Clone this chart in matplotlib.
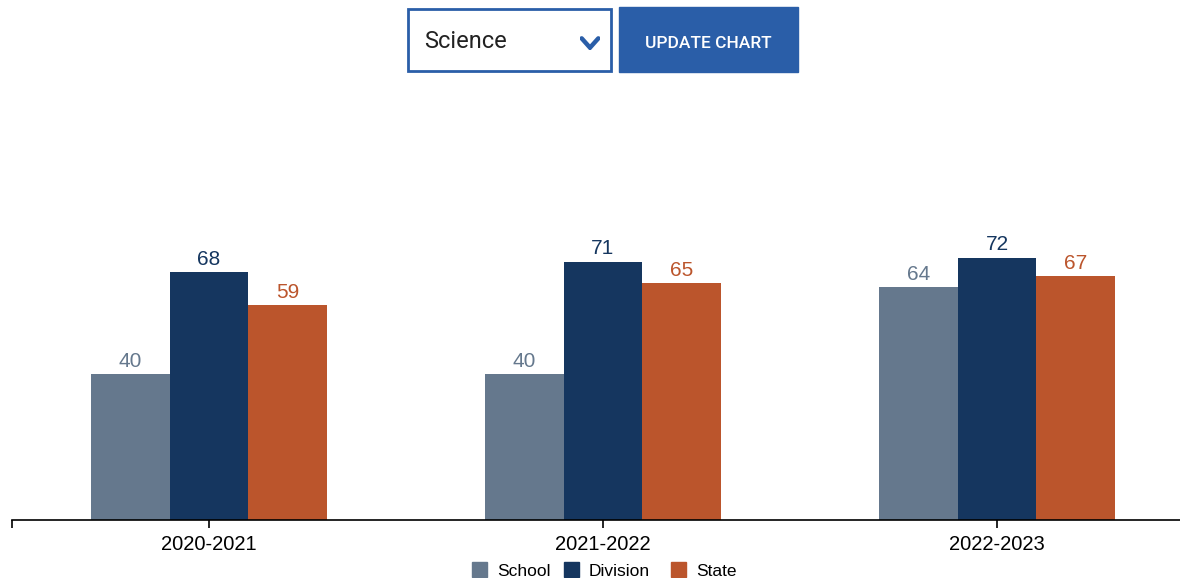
import matplotlib.pyplot as plt
import numpy as np
from matplotlib.patches import Rectangle

years = ["2020-2021", "2021-2022", "2022-2023"]
series = ["School", "Division", "State"]
school = [40, 40, 64]
division = [68, 71, 72]
state = [59, 65, 67]
subject = "Science"

colors = {"School": "#65788d", "Division": "#15365f", "State": "#bb552c"}
blue = "#2a5ea8"

W, H = 1180, 578
fig = plt.figure(figsize=(W / 100, H / 100), dpi=100)

# axes: baseline at y=520px, 100 -> ~156px; band width 394px starting at x=12
ax = fig.add_axes([12 / W, 1 - 520 / H, (W - 12) / W, 364 / H])
ax.set_ylim(0, 100)
ax.set_xlim(-0.5, (W - 12) / 394 - 0.5)

x = np.arange(len(years))
bw = 0.2
vals = {"School": school, "Division": division, "State": state}
for i, s in enumerate(series):
    xs = x + (i - 1) * bw
    ax.bar(xs, vals[s], width=bw, color=colors[s], label=s)
    for xi, v in zip(xs, vals[s]):
        ax.annotate(str(v), (xi, v), xytext=(0, 2.5), textcoords="offset points",
                    ha="center", va="bottom", fontsize=15, color=colors[s],
                    family="Liberation Sans")

for sp in ["top", "right", "left"]:
    ax.spines[sp].set_visible(False)
ax.spines["bottom"].set_linewidth(1.2)
ax.set_yticks([])
ax.set_xticks(x)
ax.set_xticklabels(years, fontsize=14.5, family="Liberation Sans")
ax.set_xticks([-0.5], minor=True)
ax.tick_params(axis="x", which="both", length=6, width=1.2, pad=5)

# legend
leg_x = [472, 564, 671]
for s, lx in zip(series, leg_x):
    fig.patches.append(Rectangle((lx / W, 1 - 577 / H), 15 / W, 15 / H,
                                 transform=fig.transFigure, color=colors[s]))
    fig.text((lx + 25) / W, 1 - 571 / H, s, fontsize=12.5, va="center",
             family="Liberation Sans")

# dropdown and button
fig.patches.append(Rectangle((408 / W, 1 - 71 / H), 203 / W, 62 / H,
                             transform=fig.transFigure, facecolor="white",
                             edgecolor=blue, linewidth=2))
fig.text(424 / W, 1 - 41.5 / H, subject, fontsize=17, va="center", family="Roboto",
         color="#222222")
ax_chev = fig.add_axes([580 / W, 1 - 50 / H, 20 / W, 14 / H], zorder=5)
ax_chev.plot([0, 0.5, 1], [1, 0.2, 1], color=blue, lw=3.2, solid_capstyle="round",
             solid_joinstyle="miter")
ax_chev.set_xlim(-0.1, 1.1)
ax_chev.set_ylim(0, 1.2)
ax_chev.axis("off")

fig.patches.append(Rectangle((619 / W, 1 - 72 / H), 179 / W, 65 / H,
                             transform=fig.transFigure, color=blue))
fig.text(708 / W, 1 - 43.5 / H, "UPDATE CHART", fontsize=12.5, va="center",
         ha="center", color="white", family="Roboto", weight="medium")

fig.savefig("out.png", dpi=100)
